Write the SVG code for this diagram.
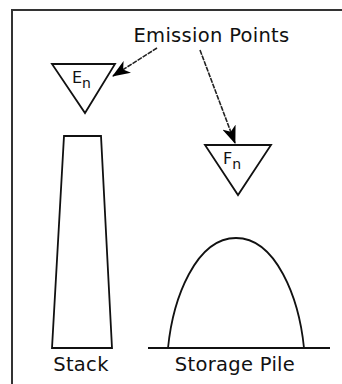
<svg xmlns="http://www.w3.org/2000/svg" width="342" height="384" viewBox="0 0 342 384">
<style>
.ln{fill:none;stroke:#111;stroke-width:1.8;stroke-linejoin:miter}
.lbl{font-family:"DejaVu Sans",Verdana,sans-serif;font-size:19.5px;letter-spacing:0.3px;fill:#111;text-anchor:middle}
.sym{font-family:"DejaVu Sans",Verdana,sans-serif;fill:#111}
.arr{fill:none;stroke:#222;stroke-width:1.6;stroke-dasharray:5 1}
</style>
<defs>
<marker id="ah" viewBox="0 0 18 14" refX="17" refY="7" markerWidth="18" markerHeight="14" markerUnits="userSpaceOnUse" orient="auto">
<path d="M0,0 L18,7 L0,14 L5,7 z" fill="#000"/>
</marker>
</defs>
<rect width="342" height="384" fill="#fff"/>
<g id="frame">
<path d="M11,10 H342 M12,10 V384" fill="none" stroke="#333" stroke-width="2"/>
</g>
<g id="title">
<text class="lbl" x="211.5" y="42">Emission Points</text>
</g>
<g id="En">
<path class="ln" d="M52,64 H115 L85,113 Z"/>
<text class="sym" x="72" y="83" font-size="16">E<tspan font-size="14" dy="5">n</tspan></text>
</g>
<g id="Fn">
<path class="ln" d="M205,145 H271 L238,195 Z"/>
<text class="sym" x="223" y="164" font-size="16">F<tspan font-size="14" dy="5">n</tspan></text>
</g>
<g id="stack">
<path class="ln" d="M64,136 H101 L112,348 H52 Z"/>
<text class="lbl" x="81" y="371">Stack</text>
</g>
<g id="pile">
<path class="ln" d="M148,348 H330"/>
<path class="ln" d="M168,348 C173,298 196,238 236,238 C276,238 299,298 304,348"/>
<text class="lbl" x="235" y="371">Storage Pile</text>
</g>
<g id="connectors">
<path class="arr" d="M157,48 L113,76" marker-end="url(#ah)"/>
<path class="arr" d="M200,50 L235,143" marker-end="url(#ah)"/>
</g>
</svg>
